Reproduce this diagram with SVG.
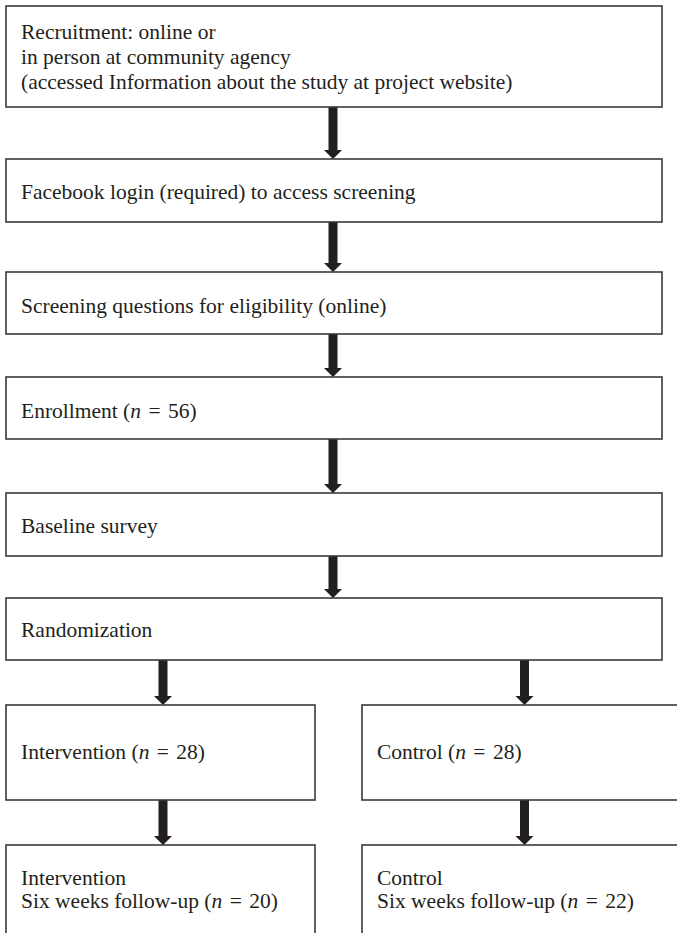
<svg xmlns="http://www.w3.org/2000/svg" width="677" height="933" viewBox="0 0 677 933">
<defs>
<style>
.box{fill:#fff;stroke:#3a3a3a;stroke-width:1.6}
.t{font-family:"Liberation Serif","Times New Roman",serif;font-size:21.5px;fill:#231f20}
.i{font-style:italic}
.arr{fill:#231f20}
</style>
</defs>
<rect width="677" height="933" fill="#fff"/>
<g id="connectors">
<path class="arr" d="M328.5,107 H337.5 V150 H342 L333,159 L324,150 H328.5 Z"/>
<path class="arr" d="M328.5,222 H337.5 V263 H342 L333,272 L324,263 H328.5 Z"/>
<path class="arr" d="M328.5,334 H337.5 V368 H342 L333,377 L324,368 H328.5 Z"/>
<path class="arr" d="M328.5,439 H337.5 V484 H342 L333,493 L324,484 H328.5 Z"/>
<path class="arr" d="M328.5,556 H337.5 V589 H342 L333,598 L324,589 H328.5 Z"/>
<path class="arr" d="M158.5,660 H167.5 V696 H172 L163,705 L154,696 H158.5 Z"/>
<path class="arr" d="M520,660 H529 V696 H533.5 L524.5,705 L515.5,696 H520 Z"/>
<path class="arr" d="M158.5,800 H167.5 V836 H172 L163,845 L154,836 H158.5 Z"/>
<path class="arr" d="M520,800 H529 V836 H533.5 L524.5,845 L515.5,836 H520 Z"/>
</g>
<g id="recruitment">
<rect class="box" x="6" y="6" width="656" height="101"/>
<text class="t" x="21" y="39">Recruitment: online or</text>
<text class="t" x="21" y="64">in person at community agency</text>
<text class="t" x="21" y="89">(accessed Information about the study at project website)</text>
</g>
<g id="facebook">
<rect class="box" x="6" y="159" width="656" height="63"/>
<text class="t" x="21" y="199">Facebook login (required) to access screening</text>
</g>
<g id="screening">
<rect class="box" x="6" y="272" width="656" height="62"/>
<text class="t" x="21" y="313">Screening questions for eligibility (online)</text>
</g>
<g id="enrollment">
<rect class="box" x="6" y="377" width="656" height="62"/>
<text class="t" x="21" y="418">Enrollment (<tspan class="i">n</tspan> <tspan dx="2">=</tspan> <tspan dx="2">56)</tspan></text>
</g>
<g id="baseline">
<rect class="box" x="6" y="493" width="656" height="63"/>
<text class="t" x="21" y="533">Baseline survey</text>
</g>
<g id="randomization">
<rect class="box" x="6" y="598" width="656" height="62"/>
<text class="t" x="21" y="637">Randomization</text>
</g>
<g id="intervention">
<rect class="box" x="6" y="705" width="309" height="95"/>
<text class="t" x="21" y="759">Intervention (<tspan class="i">n</tspan> <tspan dx="2">=</tspan> <tspan dx="2">28)</tspan></text>
</g>
<g id="control">
<rect class="box" x="362" y="705" width="330" height="95"/>
<text class="t" x="377" y="759">Control (<tspan class="i">n</tspan> <tspan dx="2">=</tspan> <tspan dx="2">28)</tspan></text>
</g>
<g id="intervention-followup">
<rect class="box" x="6" y="845" width="309" height="110"/>
<text class="t" x="21" y="885">Intervention</text>
<text class="t" x="21" y="908">Six weeks follow-up (<tspan class="i">n</tspan> <tspan dx="2">=</tspan> <tspan dx="2">20)</tspan></text>
</g>
<g id="control-followup">
<rect class="box" x="362" y="845" width="330" height="110"/>
<text class="t" x="377" y="885">Control</text>
<text class="t" x="377" y="908">Six weeks follow-up (<tspan class="i">n</tspan> <tspan dx="2">=</tspan> <tspan dx="2">22)</tspan></text>
</g>
</svg>
